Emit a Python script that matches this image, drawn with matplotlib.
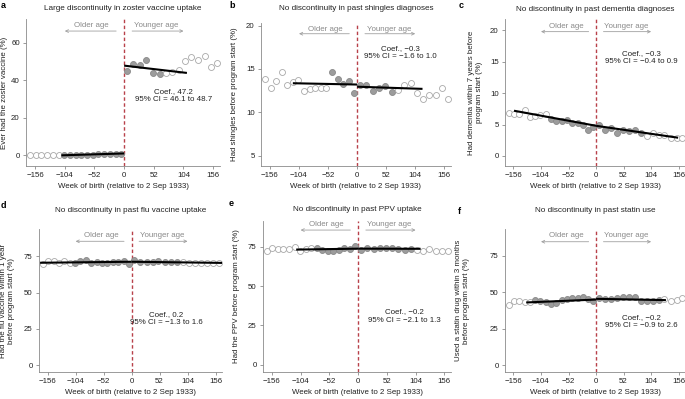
import matplotlib
matplotlib.use("Agg")
import matplotlib.pyplot as plt
import matplotlib.transforms as mtransforms

plt.rcParams['font.family'] = ['Liberation Sans', 'DejaVu Sans']
plt.rcParams['font.size'] = 5.7

# bin centres (weeks of birth relative to 2 Sep 1933)
weeks_left = [-165, -155, -145, -135, -125, -115, -105, -95, -85, -75, -65, -55, -45, -35, -25, -15, -5]
weeks_right = [5, 16, 28, 39, 50, 62, 73, 84, 96, 107, 118, 129, 141, 152, 163]
xticks = [-156, -104, -52, 0, 52, 104, 156]

# a: zoster vaccine
a_left = [0.1, 0.1, 0.1, 0.1, 0.1, 0.1, 0.1, 0.2, 0.2, 0.3, 0.3, 0.4, 0.6, 0.7, 0.8, 0.9, 0.9]
a_right = [45.1, 48.8, 48.1, 50.8, 43.8, 43.3, 44.2, 44.4, 45.6, 50.2, 52.7, 51.1, 53.1, 47.4, 49.2]
a_fit_left_x, a_fit_left_y = [-110, 0], [0.0, 1.0]
a_fit_right_x, a_fit_right_y = [0, 110], [47.9, 44.0]

# b: shingles
b_left = [13.8, 12.8, 13.6, 14.6, 13.15, 13.5, 13.7, 12.4, 12.7, 12.8, 12.85, 12.8, 14.7, 13.8, 13.3, 13.65, 12.2]
b_right = [13.1, 13.2, 12.4, 12.85, 13.0, 12.35, 12.55, 13.1, 13.4, 12.25, 11.55, 11.95, 11.95, 12.85, 11.55]
b_fit_left_x, b_fit_left_y = [-115, 0], [13.35, 13.2]
b_fit_right_x, b_fit_right_y = [0, 117], [12.95, 12.7]

# c: dementia
c_left = [6.9, 6.7, 6.7, 7.3, 6.2, 6.3, 6.5, 6.6, 5.9, 5.5, 5.6, 5.8, 5.2, 5.2, 5.0, 4.1, 4.6]
c_right = [4.9, 4.1, 4.4, 3.7, 4.2, 3.9, 4.2, 3.7, 3.1, 3.6, 3.4, 3.3, 2.9, 2.9, 2.9]
c_fit_left_x, c_fit_left_y = [-155, 0], [7.2, 4.8]
c_fit_right_x, c_fit_right_y = [0, 155], [4.8, 2.9]

# d: flu vaccine
d_left = [69.5, 72.0, 72.0, 70.6, 71.8, 70.2, 70.3, 71.5, 72.2, 70.3, 71.1, 70.5, 70.7, 71.1, 71.4, 72.0, 70.0]
d_right = [72.3, 71.4, 71.0, 71.2, 71.6, 71.0, 71.4, 70.9, 71.0, 70.5, 70.4, 70.3, 70.2, 70.2, 70.3]
d_fit_left_x, d_fit_left_y = [-170, 0], [70.6, 71.3]
d_fit_right_x, d_fit_right_y = [0, 168], [71.3, 70.5]

# e: PPV
e_left = [72.5, 74.0, 73.5, 73.5, 73.5, 74.8, 72.2, 73.6, 74.4, 74.4, 73.2, 72.6, 72.6, 72.8, 74.0, 73.8, 75.3]
e_right = [73.2, 74.2, 73.6, 74.0, 74.2, 74.4, 73.6, 73.0, 73.9, 73.0, 72.5, 73.8, 72.2, 72.2, 72.5]
e_fit_left_x, e_fit_left_y = [-112, 0], [73.3, 73.9]
e_fit_right_x, e_fit_right_y = [0, 113], [73.9, 73.8]

# f: statins
f_left = [41.5, 43.8, 44.2, 43.2, 43.5, 45.0, 44.0, 43.0, 42.0, 42.5, 44.8, 45.3, 45.8, 46.2, 46.5, 45.2, 44.0]
f_right = [46.2, 45.5, 45.7, 46.2, 46.7, 46.7, 46.5, 44.0, 44.0, 44.0, 44.5, 45.5, 44.0, 44.8, 46.0]
f_fit_left_x, f_fit_left_y = [-132, 0], [43.0, 45.0]
f_fit_right_x, f_fit_right_y = [0, 132], [45.5, 44.6]

W, H = 685, 399
fig = plt.figure(figsize=(W / 100, H / 100), dpi=100)


def add_axes(l, r, t, b):
    return fig.add_axes([l / W, 1 - b / H, (r - l) / W, (b - t) / H])


panels = [
    dict(box=(26, 220, 19, 166), letter='a', lpos=(1, 5),
         title='Large discontinuity in zoster vaccine uptake', ty=8,
         ylabel='Ever had the zoster vaccine (%)', ylx=-0.093,
         ylim=(-5.7, 72.8), yticks=[0, 20, 40, 60],
         left=a_left, right=a_right, nfl=11, nfr=6,
         fits=[(a_fit_left_x, a_fit_left_y), (a_fit_right_x, a_fit_right_y)],
         coef='Coef., 47.2\n95% CI = 46.1 to 48.7', cpos=(86, 32), arr=(0.955, 0.918)),
    dict(box=(261, 451, 23, 166), letter='b', lpos=(229, 5),
         title='No discontinuity in past shingles diagnoses', ty=8.5,
         ylabel='Had shingles before program start (%)', ylx=-0.121,
         ylim=(3.8, 20.3), yticks=[5, 10, 15, 20],
         left=b_left, right=b_right, nfl=5, nfr=6,
         fits=[(b_fit_left_x, b_fit_left_y), (b_fit_right_x, b_fit_right_y)],
         coef='Coef., \u22120.3\n95% CI = \u22121.6 to 1.0', cpos=(78, 16.9), arr=(0.958, 0.925)),
    dict(box=(505, 685, 19, 166), letter='c', lpos=(459, 5),
         title='No discontinuity in past dementia diagnoses', ty=9.3,
         ylabel='Had dementia within 7 years before\nprogram start (%)', ylx=-0.122,
         ylim=(-1.6, 21.8), yticks=[0, 5, 10, 15, 20],
         left=c_left, right=c_right, nfl=9, nfr=8,
         fits=[(c_fit_left_x, c_fit_left_y), (c_fit_right_x, c_fit_right_y)],
         coef='Coef., \u22120.3\n95% CI = \u22120.4 to 0.9', cpos=(86, 15.7), arr=(0.948, 0.914)),
    dict(box=(39, 222, 229, 372), letter='d', lpos=(1, 205),
         title='No discontinuity in past flu vaccine uptake', ty=210.7,
         ylabel='Had the flu vaccine within 1 year\nbefore program start (%)', ylx=-0.131,
         ylim=(-4.8, 93.9), yticks=[0, 25, 50, 75],
         left=d_left, right=d_right, nfl=11, nfr=8,
         fits=[(d_fit_left_x, d_fit_left_y), (d_fit_right_x, d_fit_right_y)],
         coef='Coef., 0.2\n95% CI = \u22121.3 to 1.6', cpos=(64, 32), arr=(0.958, 0.914)),
    dict(box=(263, 451, 221, 372), letter='e', lpos=(229, 204),
         title='No discontinuity in past PPV uptake', ty=209.5,
         ylabel='Had the PPV before program start (%)', ylx=-0.124,
         ylim=(-4.6, 91.5), yticks=[0, 25, 50, 75],
         left=e_left, right=e_right, nfl=8, nfr=9,
         fits=[(e_fit_left_x, e_fit_left_y), (e_fit_right_x, e_fit_right_y)],
         coef='Coef., \u22120.2\n95% CI = \u22122.1 to 1.3', cpos=(84, 31), arr=(0.976, 0.94)),
    dict(box=(505, 685, 229, 372), letter='f', lpos=(458, 212),
         title='No discontinuity in past statin use', ty=210.7,
         ylabel='Used a statin drug within 3 months\nbefore program start (%)', ylx=-0.194,
         ylim=(-4.8, 93.5), yticks=[0, 25, 50, 75],
         left=f_left, right=f_right, nfl=12, nfr=11,
         fits=[(f_fit_left_x, f_fit_left_y), (f_fit_right_x, f_fit_right_y)],
         coef='Coef., \u22120.2\n95% CI = \u22120.9 to 2.6', cpos=(86, 30), arr=(0.953, 0.911)),
]

spine_col = '#8a8a8a'
for p in panels:
    l, r, t, b = p['box']
    ax = add_axes(l, r, t, b)
    ax.set_xlim(-172, 168)
    ax.set_ylim(*p['ylim'])
    ax.set_xticks(xticks)
    ax.set_yticks(p['yticks'])
    for s in ['top', 'right']:
        ax.spines[s].set_visible(False)
    for s in ['left', 'bottom']:
        ax.spines[s].set_color(spine_col)
        ax.spines[s].set_linewidth(0.6)
    ax.tick_params(length=2.5, width=0.6, color=spine_col, pad=2, labelsize=5.7, labelcolor='#222222')
    ax.set_xlabel('Week of birth (relative to 2 Sep 1933)', fontsize=5.7, labelpad=3, color='#222222')
    ax.set_ylabel(p['ylabel'], fontsize=5.7, color='#222222', linespacing=1.15)
    ax.yaxis.set_label_coords(p['ylx'], 0.5)

    ax.axvline(0, color='#b8414a', lw=1.0, ls=(0, (2.5, 1.8)), zorder=1)

    nl = len(weeks_left)
    for i, (x, y) in enumerate(zip(weeks_left, p['left'])):
        filled = i >= nl - p['nfl']
        ax.plot(x, y, 'o', ms=4.3, mew=0.6,
                mfc='#9c9c9c' if filled else 'white',
                mec='#888888' if filled else '#a8a8a8', zorder=2)
    for i, (x, y) in enumerate(zip(weeks_right, p['right'])):
        filled = i < p['nfr']
        ax.plot(x, y, 'o', ms=4.3, mew=0.6,
                mfc='#9c9c9c' if filled else 'white',
                mec='#888888' if filled else '#a8a8a8', zorder=2)

    for fx, fy in p['fits']:
        ax.plot(fx, fy, color='black', lw=1.5, solid_capstyle='butt', zorder=3)

    trans = mtransforms.blended_transform_factory(ax.transData, ax.transAxes)
    ty_txt, ty_arr = p['arr']
    ax.text(-57, ty_txt, 'Older age', transform=trans, ha='center', va='center',
            color='#8a8a8a', fontsize=5.7)
    ax.text(57, ty_txt, 'Younger age', transform=trans, ha='center', va='center',
            color='#8a8a8a', fontsize=5.7)
    ax.annotate('', xy=(-104, ty_arr), xytext=(-14, ty_arr), xycoords=trans, textcoords=trans,
                arrowprops=dict(arrowstyle='->', color='#a0a0a0', lw=0.6,
                                mutation_scale=5, shrinkA=0, shrinkB=0))
    ax.annotate('', xy=(104, ty_arr), xytext=(14, ty_arr), xycoords=trans, textcoords=trans,
                arrowprops=dict(arrowstyle='->', color='#a0a0a0', lw=0.6,
                                mutation_scale=5, shrinkA=0, shrinkB=0))

    ax.text(p['cpos'][0], p['cpos'][1], p['coef'], ha='center', va='center',
            multialignment='center', fontsize=5.7, color='#222222', linespacing=1.3)

    fig.text((l + r) / 2 / W, 1 - p['ty'] / H, p['title'], ha='center', va='center',
             fontsize=5.9, color='#222222')
    fig.text(p['lpos'][0] / W, 1 - p['lpos'][1] / H, p['letter'], ha='left', va='center',
             fontsize=6.5, fontweight='bold')

fig.savefig('out.png', dpi=100)
